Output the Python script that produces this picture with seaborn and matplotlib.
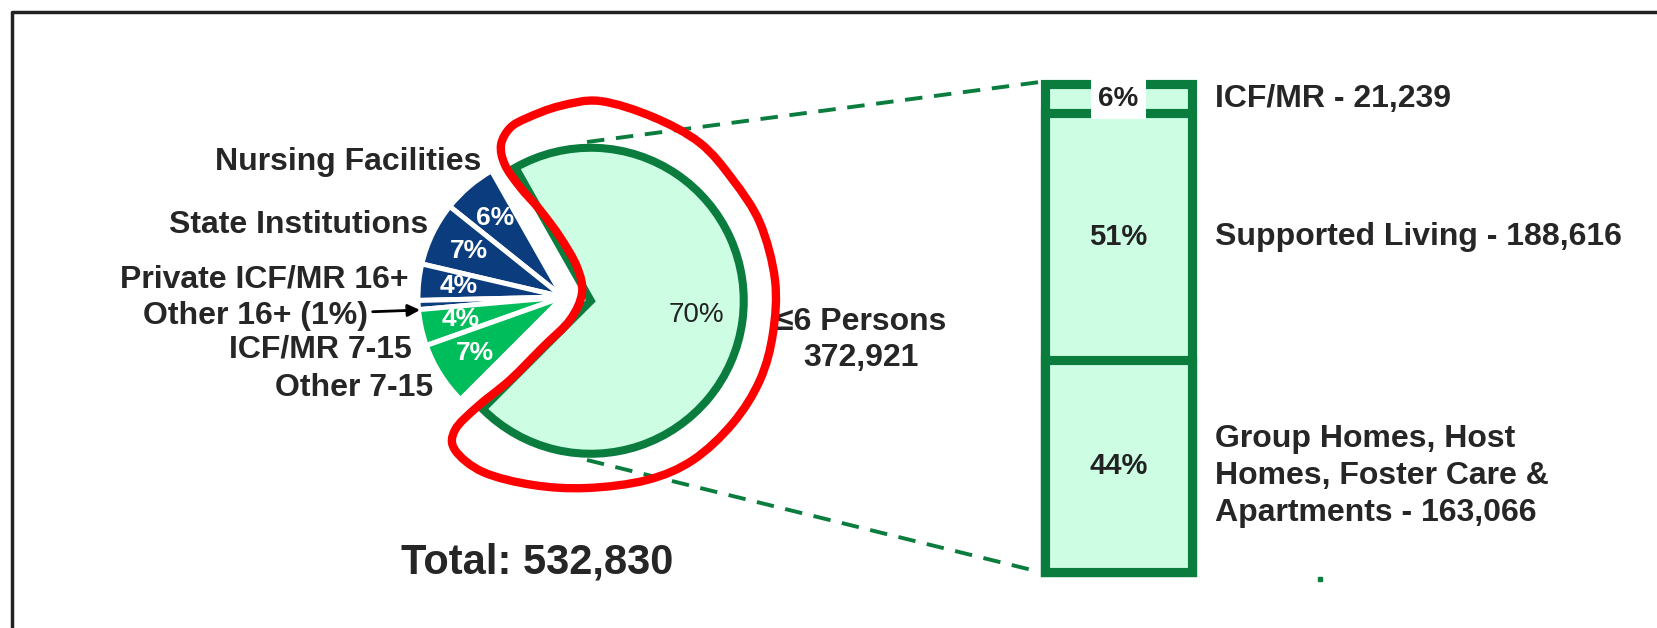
import numpy as np
import matplotlib.pyplot as plt
import matplotlib.transforms as mtransforms
from matplotlib.path import Path
from matplotlib.patches import PathPatch
import seaborn as sns

sns.set_theme(style="white")
plt.rcParams['font.family'] = ['Liberation Sans', 'DejaVu Sans']

# pie: share of all persons by residential setting (percent)
pie_labels = ["≤6 Persons", "Nursing Facilities", "State Institutions",
              "Private ICF/MR 16+", "Other 16+ (1%)", "ICF/MR 7-15", "Other 7-15"]
pie_pct = [70, 6, 7, 4, 1, 4, 7]
pie_colors = ["#cdfde3", "#0b3d7e", "#0b3d7e", "#0b3d7e", "#0b3d7e", "#00bd5b", "#00bd5b"]

# bar: breakdown of the <=6 persons slice, bottom to top
bar_labels = ["Group Homes, Host\nHomes, Foster Care &\nApartments - 163,066",
              "Supported Living - 188,616",
              "ICF/MR - 21,239"]
bar_pct = [44, 51, 6]

big_label = "≤6 Persons\n372,921"
total_label = "Total: 532,830"

DARK = "#0a7d3e"
LIGHT = "#cdfde3"
W, H = 1657, 628


def Y(y):
    # pixel row (from top) -> data y
    return H - y


fig = plt.figure(figsize=(W / 100, H / 100), dpi=100)
ax = fig.add_axes([0, 0, 1, 1])

# pie
c_small = (563, Y(297))
wedges, _ = ax.pie(pie_pct, colors=pie_colors, startangle=-135, radius=145,
                   center=c_small, wedgeprops=dict(edgecolor="white", linewidth=3.6))

big = wedges[0]
mid = np.deg2rad((big.theta1 + big.theta2) / 2)
c_big = (c_small[0] + 28 * np.cos(mid), c_small[1] + 28 * np.sin(mid))
big.set_center(c_big)
big.set_radius(153)
big.set_edgecolor(DARK)
big.set_linewidth(5.8)
big.set_zorder(3)
ax.text(c_big[0] + 107 * np.cos(mid), c_big[1] + 107 * np.sin(mid), f"{pie_pct[0]}%",
        ha="center", va="center", fontsize=20, color="#222222", zorder=4)

for w, p in zip(wedges[1:], pie_pct[1:]):
    if p < 2:
        continue
    m = np.deg2rad((w.theta1 + w.theta2) / 2)
    ax.text(c_small[0] + 0.72 * 145 * np.cos(m), c_small[1] + 0.72 * 145 * np.sin(m),
            f"{p}%", ha="center", va="center", fontsize=19, color="white",
            weight="bold", zorder=4)

# outside labels of the small slices
label_pos = {"Nursing Facilities": (481, 162), "State Institutions": (428, 225),
             "Private ICF/MR 16+": (408, 280), "ICF/MR 7-15": (412, 350),
             "Other 7-15": (433, 388)}
for name in pie_labels[1:]:
    if name in label_pos:
        x, y = label_pos[name]
        ax.text(x, Y(y), name, ha="right", va="center", fontsize=23, weight="bold")
ax.annotate(pie_labels[4], xy=(420, Y(310)), xytext=(368, Y(316)), ha="right", va="center",
            fontsize=23, weight="bold",
            arrowprops=dict(arrowstyle="-|>", color="black", lw=2, shrinkA=1, shrinkB=0,
                            mutation_scale=18))

ax.text(861, Y(340), big_label, ha="center", va="center", fontsize=23, weight="bold",
        linespacing=1.3)
ax.text(537, Y(562), total_label, ha="center", va="center", fontsize=30, weight="bold")

# connector lines
ax.plot([587, 1040], [Y(142), Y(82)], color=DARK, lw=2.8, dashes=(4.5, 3), zorder=1)
ax.plot([587, 1040], [Y(460), Y(572)], color=DARK, lw=2.8, dashes=(4.5, 3), zorder=1)
ax.plot(1320, Y(579), "s", ms=2.5, color=DARK)

# red hand-drawn outline
pts = np.array([(600, 101), (653, 117), (700, 143), (733, 180), (760, 223), (775, 280),
                (773, 333), (760, 380), (733, 423), (693, 460), (647, 480), (587, 488),
                (533, 485), (483, 472), (455, 450), (455, 430), (477, 407), (510, 380),
                (543, 347), (570, 320), (582, 293), (577, 267), (560, 237), (540, 210),
                (520, 187), (505, 165), (501, 145), (510, 128), (527, 118), (560, 106)],
               dtype=float)
pts[:, 1] = H - pts[:, 1]
n = len(pts)
verts, codes = [pts[0]], [Path.MOVETO]
for i in range(n):
    p0, p1, p2, p3 = pts[i - 1], pts[i], pts[(i + 1) % n], pts[(i + 2) % n]
    verts += [p1 + (p2 - p0) / 6, p2 - (p3 - p1) / 6, p2]
    codes += [Path.CURVE4] * 3
ax.add_patch(PathPatch(Path(verts, codes), fill=False, edgecolor="#ff0000", lw=6, zorder=6))

# frame
ax.plot([12, 12, W + 5], [-5, Y(12), Y(12)], color="#222222", lw=2.5, clip_on=False)

ax.set_xlim(0, W)
ax.set_ylim(0, H)
ax.set_aspect("auto")
ax.axis("off")

# stacked bar
bax = fig.add_axes([1045 / W, (H - 572) / H, 147 / W, 487.5 / H])
tops = np.cumsum(bar_pct)
for top in tops[::-1]:
    sns.barplot(x=["≤6"], y=[top], width=1, color=LIGHT, saturation=1,
                edgecolor=DARK, linewidth=6.6, ax=bax)
for p in bax.patches:
    p.set_clip_on(False)
bax.set_xlim(-0.5, 0.5)
bax.set_ylim(0, tops[-1])
bax.axis("off")

blend = mtransforms.blended_transform_factory(ax.transData, bax.transData)
for i, (lab, p) in enumerate(zip(bar_labels, bar_pct)):
    mid_y = tops[i] - p / 2
    box = dict(facecolor="white", edgecolor="none", pad=5) if p < 10 else None
    bax.text(0, mid_y, f"{p}%", ha="center", va="center", fontsize=21 if p > 10 else 20,
             weight="bold", color="#222222", bbox=box, zorder=5)
    tr = blend
    if "\n" in lab:
        tr = mtransforms.offset_copy(blend, fig=fig, y=-10, units="dots")
    ax.text(1215, mid_y, lab, transform=tr, ha="left", va="center", fontsize=23,
            weight="bold", linespacing=1.3)

fig.savefig("out.png", dpi=100)
